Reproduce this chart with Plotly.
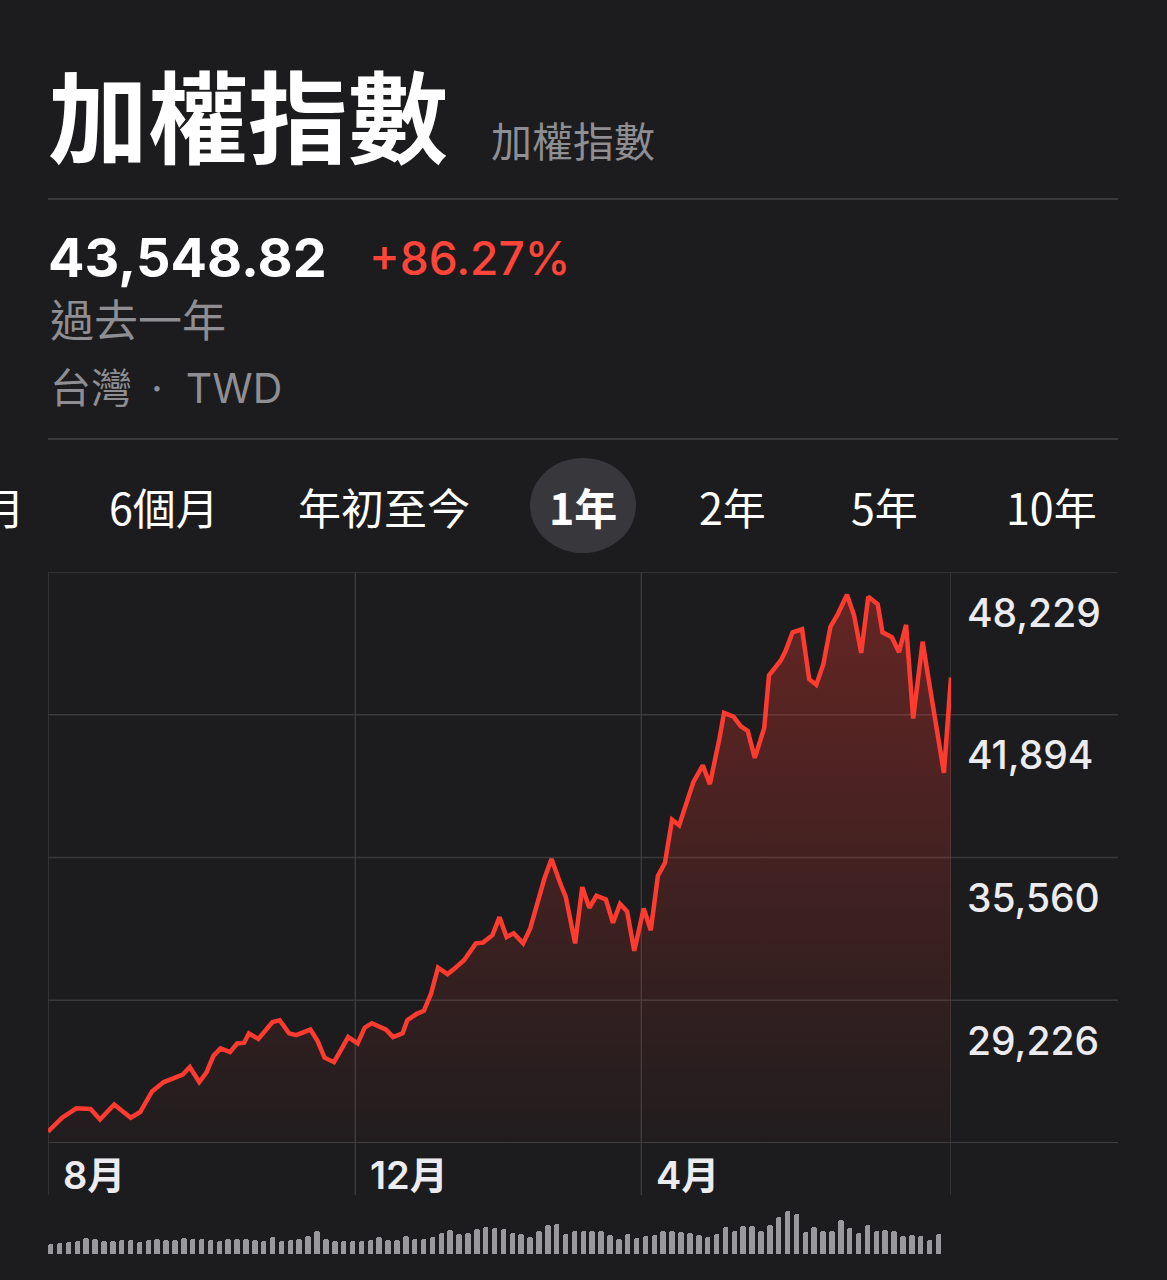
import plotly.graph_objects as go

W, H = 1167, 1280

# ---------------- data ----------------
title = "加權指數"
subtitle = "加權指數"
last_price = "43,548.82"
change_pct = "+86.27%"
period_label = "過去一年"
market_label = "台灣 \u2009· \u00a0TWD"
range_tabs = ["3個月", "6個月", "年初至今", "1年", "2年", "5年", "10年"]
selected_tab = "1年"

# trading-position index (x) and index level (y)
x_pos = [0, 6, 12, 18, 22, 28, 35, 39, 44, 49,
         57, 60, 64, 67, 70, 73, 77, 80, 83, 85,
         89, 95, 98, 102, 105, 111, 114, 117, 121, 127,
         131, 134, 137, 143, 146, 150, 152, 156, 159, 162,
         165, 169, 172, 176, 181, 184, 188, 191, 194, 197,
         201, 204, 210, 213, 217, 219, 223, 226, 229, 232,
         236, 239, 242, 245, 248, 252, 255, 258, 261, 264,
         267, 273, 277, 280, 284, 286, 290, 293, 296, 299,
         303, 305, 310, 312, 315, 319, 322, 325, 328, 331,
         334, 338, 341, 344, 347, 351, 353, 357, 360, 363,
         366, 370, 372, 376, 379, 382]
price = [23401, 24017, 24433, 24400, 23934, 24600, 24017, 24266, 25180, 25596,
         25929, 26262, 25596, 26012, 26760, 27093, 26927, 27309, 27342, 27758,
         27509, 28257, 28341, 27758, 27675, 27925, 27426, 26678, 26478, 27592,
         27309, 28008, 28208, 27925, 27592, 27758, 28341, 28623, 28757, 29505,
         30669, 30386, 30635, 31001, 31750, 31783, 32115, 32914, 32032, 32199,
         31750, 32415, 34627, 35492, 34328, 33828, 31750, 34245, 33330, 33862,
         33696, 32664, 33496, 33163, 31417, 33296, 32332, 34743, 35325, 37238,
         36988, 38901, 39649, 38818, 40813, 41977, 41811, 41395, 41179, 39982,
         41312, 43640, 44305, 44721, 45553, 45686, 43474, 43224, 44139, 45802,
         46334, 47216, 46301, 44638, 47133, 46800, 45553, 45337, 44671, 45886,
         41728, 45137, 43807, 41312, 39316, 43549]

y_ticks = [48229, 41894, 35560, 29226]
y_floor = 22892
month_labels = ["8月", "12月", "4月"]
month_pos = [0, 130, 251]
x_end = 382

# relative trading volume (arbitrary units)
volume = [10, 11, 12, 13, 16, 15, 13, 13, 14, 14, 12, 14, 15, 14, 14, 16, 15, 15, 14, 13,
          15, 15, 15, 14, 13, 17, 13, 14, 15, 18, 23, 15, 13, 13, 13, 13, 14, 17, 14, 14,
          18, 15, 15, 17, 21, 24, 20, 21, 25, 27,
          26, 25, 21, 20, 17, 23, 29, 30, 20, 23, 23, 23, 23, 19, 15, 20, 16, 18, 19, 23,
          23, 22, 21, 19, 17, 20, 27, 23, 28, 28, 23, 29, 37, 43, 40, 22, 27, 23, 23, 34,
          26, 21, 29, 23, 24, 23, 18, 19, 18, 14, 20]

# ---------------- style ----------------
BG = "#1c1c1e"
RED = "#ff3b30"
GRAY = "#8e8e93"
GRID = "#3a3a3c"
LAT = "Inter, 'Noto Sans CJK TC', sans-serif"
CJK = "'Noto Sans CJK TC', Inter, sans-serif"


def px(xp):
    return xp / W


def py(yp):
    return 1 - yp / H


fig = go.Figure()

# baseline for the gradient area
fig.add_trace(go.Scatter(x=[x_pos[0], x_pos[-1]], y=[y_floor, y_floor], mode="lines",
                         line=dict(width=0, color=BG), hoverinfo="skip",
                         xaxis="x", yaxis="y", showlegend=False))
fig.add_trace(go.Scatter(
    x=x_pos, y=price, mode="lines", fill="tonexty",
    line=dict(color=RED, width=4.5),
    fillgradient=dict(type="vertical",
                      colorscale=[[0, "rgba(255,59,48,0.02)"], [1, "rgba(255,59,48,0.33)"]],
                      start=y_floor, stop=y_ticks[0]),
    xaxis="x", yaxis="y", showlegend=False, name="加權指數"))

fig.add_trace(go.Bar(
    x=list(range(len(volume))), y=volume, width=0.62,
    marker=dict(color="#98989d", cornerradius=3, line=dict(width=0)),
    xaxis="x2", yaxis="y2", showlegend=False))

fig.update_layout(
    width=W, height=H, margin=dict(l=0, r=0, t=0, b=0),
    paper_bgcolor=BG, plot_bgcolor=BG,
    xaxis=dict(domain=[px(48), px(951)], range=[0, x_end], visible=False, fixedrange=True),
    yaxis=dict(domain=[py(1143), py(572)], range=[y_floor, y_ticks[0]], visible=False),
    xaxis2=dict(domain=[px(48), px(950)], range=[-0.3, len(volume) + 0.3], visible=False),
    yaxis2=dict(domain=[py(1254), py(1204)], range=[0, 50], visible=False),
    bargap=0,
)

shapes = []
# header separators
for yy in [199, 439]:
    shapes.append(dict(type="line", xref="paper", yref="paper", x0=px(48), x1=px(1118),
                       y0=py(yy), y1=py(yy), line=dict(color=GRID, width=2)))
# selected tab pill
shapes.append(dict(type="circle", xref="paper", yref="paper", x0=px(530), x1=px(636),
                   y0=py(553), y1=py(458), fillcolor="#38383c", line=dict(width=0), layer="below"))
# horizontal gridlines
for v in y_ticks + [y_floor]:
    shapes.append(dict(type="line", xref="paper", yref="y", x0=px(48), x1=px(1118),
                       y0=v, y1=v,
                       line=dict(color="#4a4a4e" if v == y_floor else GRID, width=1.5),
                       layer="below"))
# vertical gridlines
for p in month_pos + [x_end]:
    shapes.append(dict(type="line", xref="x", yref="paper", x0=p, x1=p,
                       y0=py(1195), y1=py(572), line=dict(color=GRID, width=1.5), layer="below"))
fig.update_layout(shapes=shapes)

ann = []
ann.append(dict(text=title, xref="paper", yref="paper", x=px(46), y=py(113),
                xanchor="left", yanchor="middle", showarrow=False,
                font=dict(family=CJK, size=100, color="#ffffff", weight=700)))
ann.append(dict(text=subtitle, xref="paper", yref="paper", x=px(489), y=py(139),
                xanchor="left", yanchor="middle", showarrow=False,
                font=dict(family=CJK, size=41, color=GRAY)))
ann.append(dict(text=last_price, xref="paper", yref="paper", x=px(46), y=py(257),
                xanchor="left", yanchor="middle", showarrow=False,
                font=dict(family=LAT, size=54, color="#ffffff", weight=700)))
ann.append(dict(text=change_pct, xref="paper", yref="paper", x=px(367), y=py(258),
                xanchor="left", yanchor="middle", showarrow=False,
                font=dict(family=LAT, size=46, color="#ff453a", weight=500)))
ann.append(dict(text=period_label, xref="paper", yref="paper", x=px(48), y=py(318),
                xanchor="left", yanchor="middle", showarrow=False,
                font=dict(family=CJK, size=44, color=GRAY)))
ann.append(dict(text=market_label, xref="paper", yref="paper", x=px(48), y=py(388),
                xanchor="left", yanchor="middle", showarrow=False,
                font=dict(family=LAT, size=41, color=GRAY)))

tab_centers = [-30, 164, 384, 583, 732, 884, 1051]
for t, cx in zip(range_tabs, tab_centers):
    ann.append(dict(text=t, xref="paper", yref="paper", x=px(cx), y=py(506),
                    xanchor="center", yanchor="middle", showarrow=False,
                    font=dict(family=CJK, size=43, color="#ffffff",
                              weight=700 if t == selected_tab else 400)))

for v in y_ticks:
    ann.append(dict(text=f"{v:,}", xref="paper", yref="y", x=px(965), y=v, yshift=-40,
                    xanchor="left", yanchor="middle", showarrow=False,
                    font=dict(family=LAT, size=39, color="#ececf0", weight=500)))

for lab, p in zip(month_labels, month_pos):
    ann.append(dict(text=lab, xref="x", yref="paper", x=p, xshift=13, y=py(1175),
                    xanchor="left", yanchor="middle", showarrow=False,
                    font=dict(family=LAT, size=38, color="#ececf0", weight=600)))

fig.update_layout(annotations=ann)

fig.write_html("out.html", config={"displayModeBar": False},
               post_script="document.body.style.margin='0';document.body.style.background='#1c1c1e';")
